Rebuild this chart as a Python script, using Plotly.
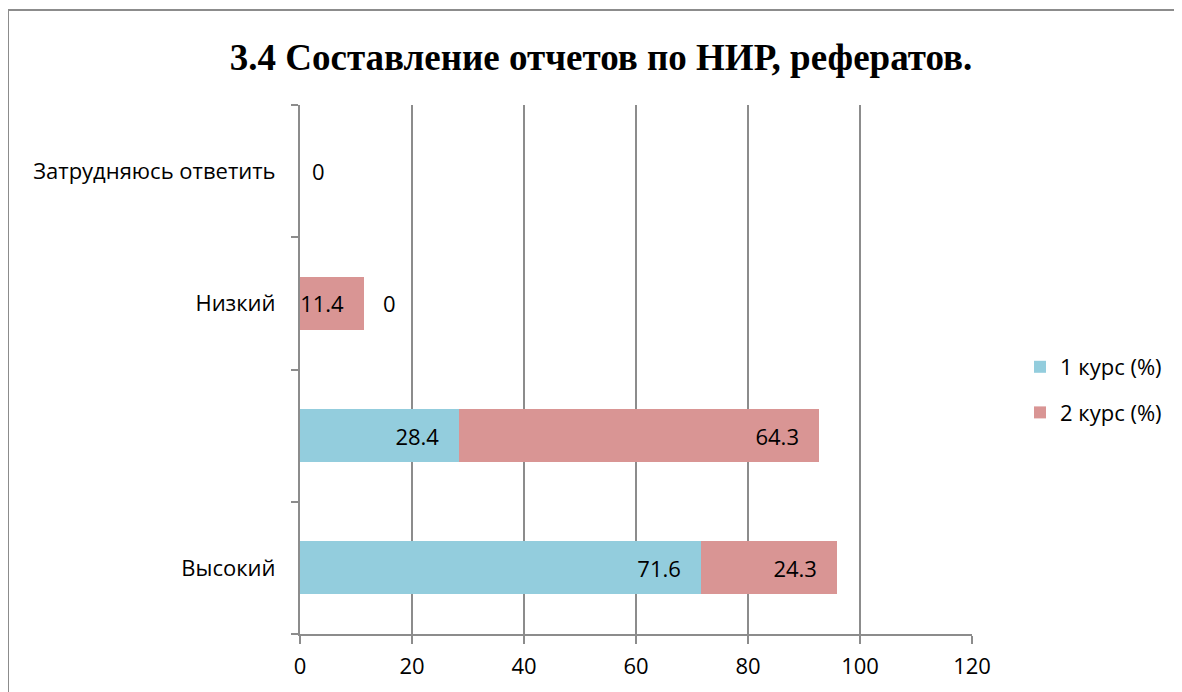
import plotly.graph_objects as go

categories = ["Высокий", " ", "Низкий", "Затрудняюсь ответить"]
kurs1 = [71.6, 28.4, 0, 0]
kurs2 = [24.3, 64.3, 11.4, 0]
series_names = ["1 курс (%)", "2 курс (%)"]
x_ticks = [0, 20, 40, 60, 80, 100, 120]

blue = "#93CDDD"
red = "#D99594"
grid = "#8c8c8c"
font_family = "Open Sans, Noto Sans, Liberation Sans, sans-serif"
FS = 22

# page body has an 8px margin: figure is shrunk so plot area lands on target pixels
W, H = 1174, 684
ML, MR, MT, MB = 292, 210, 97, 58
PW = W - ML - MR
PH = H - MT - MB

def labels(vals):
    return [f"{v:g}\u00a0\u00a0\u00a0" if v != 0 else "" for v in vals]

fig = go.Figure()
for vals, name, col in [(kurs1, series_names[0], blue), (kurs2, series_names[1], red)]:
    fig.add_trace(go.Bar(
        y=categories, x=vals, name=name, orientation="h", legendgroup=name,
        marker=dict(color=col, line=dict(width=0)),
        text=labels(vals), textposition="inside", insidetextanchor="end",
        constraintext="none",
        textfont=dict(size=FS, color="black", family=font_family),
        cliponaxis=False,
    ))

# zero-value labels
for i, (a, b) in enumerate(zip(kurs1, kurs2)):
    if a == 0:
        total = a + b
        fig.add_annotation(x=total, y=categories[i], text="0", showarrow=False,
                           xanchor="left", xshift=10 if total == 0 else 17,
                           font=dict(size=FS, color="black", family=font_family))

fig.update_layout(
    width=W, height=H,
    barmode="stack", bargap=0.6,
    plot_bgcolor="white", paper_bgcolor="white",
    margin=dict(l=ML, r=MR, t=MT, b=MB, autoexpand=False),
    title=dict(text="<b>3.4 Составление отчетов по НИР, рефератов.</b>",
               x=(601 - 8) / W, xanchor="center", xref="container",
               y=1 - (57 - 8) / H, yanchor="middle", yref="container",
               font=dict(family="Liberation Serif, Times New Roman, serif", size=37, color="black")),
    legend=dict(x=(1020 - 300) / PW, y=(634 - 390) / PH, xanchor="left", yanchor="middle",
                font=dict(size=FS, family=font_family, color="black"),
                itemwidth=30, tracegroupgap=14, traceorder="grouped"),
    font=dict(family=font_family, color="black"),
)
fig.update_xaxes(
    range=[0, 120], tickvals=x_ticks, showgrid=True, gridcolor=grid, gridwidth=2,
    showline=True, linecolor=grid, linewidth=2,
    ticks="outside", ticklen=8, tickwidth=2, tickcolor=grid, ticklabelstandoff=4,
    tickfont=dict(size=FS, color="black", family=font_family), zeroline=False,
)
fig.update_yaxes(
    categoryorder="array", categoryarray=categories,
    showline=True, linecolor=grid, linewidth=2,
    ticks="outside", ticklen=7, tickwidth=2, tickcolor=grid, tickson="boundaries",
    tickfont=dict(size=FS, color="black", family=font_family), ticklabelstandoff=18,
    showgrid=False,
)
# outer frame
fig.add_shape(type="rect", xref="paper", yref="paper",
              x0=(8 - 300) / PW, x1=1.6, y0=-0.5, y1=(634 - 10) / PH,
              line=dict(color=grid, width=2), fillcolor="rgba(0,0,0,0)", layer="below")

fig.write_html("out.html")
